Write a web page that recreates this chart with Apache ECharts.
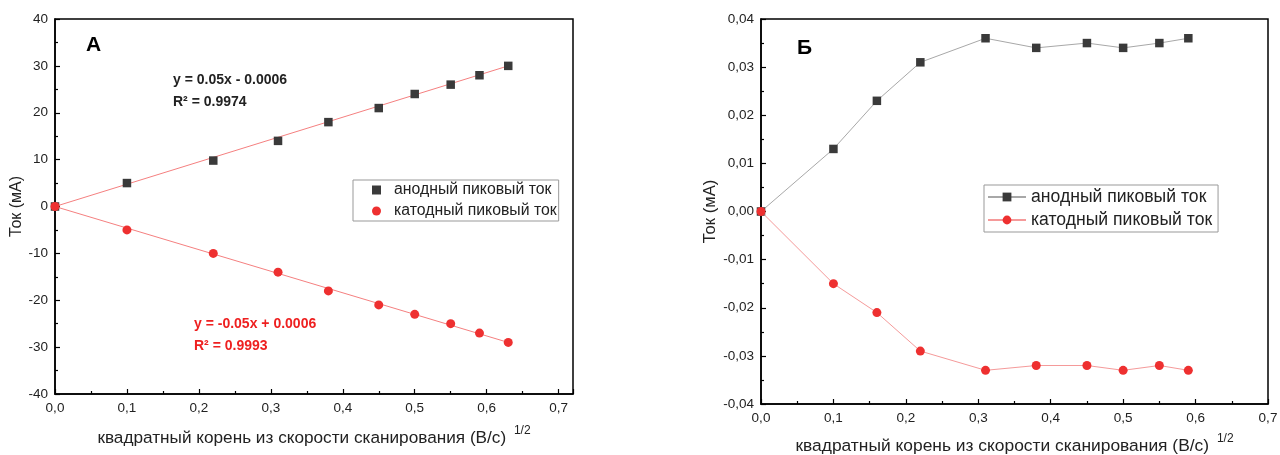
<!DOCTYPE html>
<html>
<head>
<meta charset="utf-8">
<script src="https://cdn.jsdelivr.net/npm/echarts@6/dist/echarts.min.js"></script>
<style>
html,body{margin:0;padding:0;background:#fff;}
#chart{width:1280px;height:455px;}
</style>
</head>
<body>
<div id="chart"></div>
<script>
// ---- Data (panel A) ----
const xA = [0, 0.1, 0.22, 0.31, 0.38, 0.45, 0.5, 0.55, 0.59, 0.63];
const anodeA = [0, 5, 9.8, 14, 18, 21, 24, 26, 28, 30];
const cathodeA = [0, -5, -10, -14, -18, -21, -23, -25, -27, -29];
const fitX = [0, 0.63];
const anodeFitY = [0, 30];
const cathodeFitY = [0, -29];
// ---- Data (panel B) ----
const xB = [0, 0.1, 0.16, 0.22, 0.31, 0.38, 0.45, 0.5, 0.55, 0.59];
const anodeB = [0, 0.013, 0.023, 0.031, 0.036, 0.034, 0.035, 0.034, 0.035, 0.036];
const cathodeB = [0, -0.015, -0.021, -0.029, -0.033, -0.032, -0.032, -0.033, -0.032, -0.033];
// ---- Texts ----
const nameAnode = 'анодный пиковый ток';
const nameCathode = 'катодный пиковый ток';
const yName = 'Ток (мА)';
const xName = 'квадратный корень из скорости сканирования (В/с)';
const xSup = '1/2';
const eqAnode = ['y = 0.05x - 0.0006', 'R² = 0.9974'];
const eqCathode = ['y = -0.05x + 0.0006', 'R² = 0.9993'];
const panelA = 'А', panelB = 'Б';

const FONT = '"Liberation Sans", Arial, sans-serif';
const C_ANODE = '#3a3a3a', C_CATH = '#ee3030';
const pair = (xs, ys) => xs.map((x, i) => [x, ys[i]]);

function xAxisCfg(gridIndex, max, gap, fs, tfs) {
  return {
    type: 'value', gridIndex, min: 0, max, interval: 0.1,
    name: xName + ' {sup|' + xSup + '}', nameLocation: 'middle', nameGap: gap,
    nameTextStyle: { fontFamily: FONT, fontSize: fs, color: '#222',
      rich: { sup: { fontFamily: FONT, fontSize: Math.round(fs * 0.7), color: '#222', padding: [0, 0, 14, 3] } } },
    axisLine: { show: true, onZero: false, lineStyle: { color: '#000', width: 1.5 } },
    axisTick: { show: true, inside: true, length: 5, lineStyle: { color: '#000', width: 1.2 } },
    minorTick: { show: true, splitNumber: 2, length: 3, lineStyle: { color: '#000', width: 1.2 } },
    splitLine: { show: false },
    axisLabel: { fontFamily: FONT, fontSize: tfs, color: '#222', margin: 7, showMaxLabel: max < 0.71,
      formatter: v => (Math.abs(v * 10 - Math.round(v * 10)) < 1e-6) ? (Math.round(v * 10) / 10).toFixed(1).replace('.', ',') : '' }
  };
}
function yAxisCfg(gridIndex, min, max, interval, gap, fs, tfs, fmt) {
  return {
    type: 'value', gridIndex, min, max, interval,
    name: yName, nameLocation: 'middle', nameGap: gap, nameRotate: 90,
    nameTextStyle: { fontFamily: FONT, fontSize: fs, color: '#222' },
    axisLine: { show: true, onZero: false, lineStyle: { color: '#000', width: 1.5 } },
    axisTick: { show: true, inside: true, length: 5, lineStyle: { color: '#000', width: 1.2 } },
    minorTick: { show: true, splitNumber: 2, length: 3, lineStyle: { color: '#000', width: 1.2 } },
    splitLine: { show: false },
    axisLabel: { fontFamily: FONT, fontSize: tfs, color: '#222', margin: 7, formatter: fmt }
  };
}

const chart = echarts.init(document.getElementById('chart'), null, { renderer: 'canvas' });
const option = {
  backgroundColor: '#fff',
  animation: false,
  grid: [
    { left: 55, top: 19, width: 518, height: 375, show: true, borderColor: '#000', borderWidth: 1.5,
      backgroundColor: 'transparent', containLabel: false, outerBoundsMode: 'none' },
    { left: 761, top: 19, width: 507, height: 385, show: true, borderColor: '#000', borderWidth: 1.5,
      backgroundColor: 'transparent', containLabel: false, outerBoundsMode: 'none' }
  ],
  xAxis: [ xAxisCfg(0, 0.72, 31, 17.2, 13.5), xAxisCfg(1, 0.7, 29, 17.4, 13.5) ],
  yAxis: [
    yAxisCfg(0, -40, 40, 10, 30, 16, 13.5, v => String(Math.round(v))),
    yAxisCfg(1, -0.04, 0.04, 0.01, 41, 16.6, 13.5, v => (Math.round(v * 100) / 100).toFixed(2).replace('.', ','))
  ],
  legend: [
    {
      orient: 'vertical', left: 353, top: 180,
      padding: [2, 2, 2, 19], itemWidth: 9, itemHeight: 9, itemGap: 5,
      borderColor: '#999', borderWidth: 1,
      textStyle: { fontFamily: FONT, fontSize: 15.8, color: '#222', padding: [0, 0, 0, 8] },
      data: [nameAnode, nameCathode]
    },
    {
      orient: 'vertical', left: 984, top: 185,
      padding: [3, 1, 3, 3], itemWidth: 38, itemHeight: 11, itemGap: 5,
      borderColor: '#999', borderWidth: 1,
      textStyle: { fontFamily: FONT, fontSize: 17.6, color: '#222' },
      data: [nameAnode + ' ', nameCathode + ' ']
    }
  ],
  series: [
    { type: 'line', xAxisIndex: 0, yAxisIndex: 0, data: pair(fitX, anodeFitY), showSymbol: false,
      lineStyle: { color: '#f58080', width: 1 }, silent: true, z: 1 },
    { type: 'line', xAxisIndex: 0, yAxisIndex: 0, data: pair(fitX, cathodeFitY), showSymbol: false,
      lineStyle: { color: '#f58080', width: 1 }, silent: true, z: 1 },
    { name: nameAnode, type: 'scatter', xAxisIndex: 0, yAxisIndex: 0, data: pair(xA, anodeA),
      symbol: 'rect', symbolSize: 8.5, itemStyle: { color: C_ANODE, opacity: 1 }, z: 3 },
    { name: nameCathode, type: 'scatter', xAxisIndex: 0, yAxisIndex: 0, data: pair(xA, cathodeA),
      symbol: 'circle', symbolSize: 9, itemStyle: { color: C_CATH, opacity: 1 }, z: 4 },
    { name: nameAnode + ' ', type: 'line', xAxisIndex: 1, yAxisIndex: 1, data: pair(xB, anodeB),
      symbol: 'rect', symbolSize: 8.5, showAllSymbol: true, itemStyle: { color: C_ANODE },
      lineStyle: { color: '#a8a8a8', width: 1 }, z: 3 },
    { name: nameCathode + ' ', type: 'line', xAxisIndex: 1, yAxisIndex: 1, data: pair(xB, cathodeB),
      symbol: 'circle', symbolSize: 9, showAllSymbol: true, itemStyle: { color: C_CATH },
      lineStyle: { color: '#f59a9a', width: 1 }, z: 4 }
  ],
  graphic: [
    { type: 'text', left: 86, top: 35, style: { text: panelA, font: 'bold 21px ' + FONT, fill: '#000' } },
    { type: 'text', left: 797, top: 38, style: { text: panelB, font: 'bold 21px ' + FONT, fill: '#000' } },
    { type: 'text', left: 173, top: 73, style: { text: eqAnode[0], font: 'bold 14px ' + FONT, fill: '#222' } },
    { type: 'text', left: 173, top: 95, style: { text: eqAnode[1], font: 'bold 14px ' + FONT, fill: '#222' } },
    { type: 'text', left: 194, top: 317, style: { text: eqCathode[0], font: 'bold 14px ' + FONT, fill: '#ee2020' } },
    { type: 'text', left: 194, top: 339, style: { text: eqCathode[1], font: 'bold 14px ' + FONT, fill: '#ee2020' } }
  ]
};
chart.setOption(option);
</script>
</body>
</html>
